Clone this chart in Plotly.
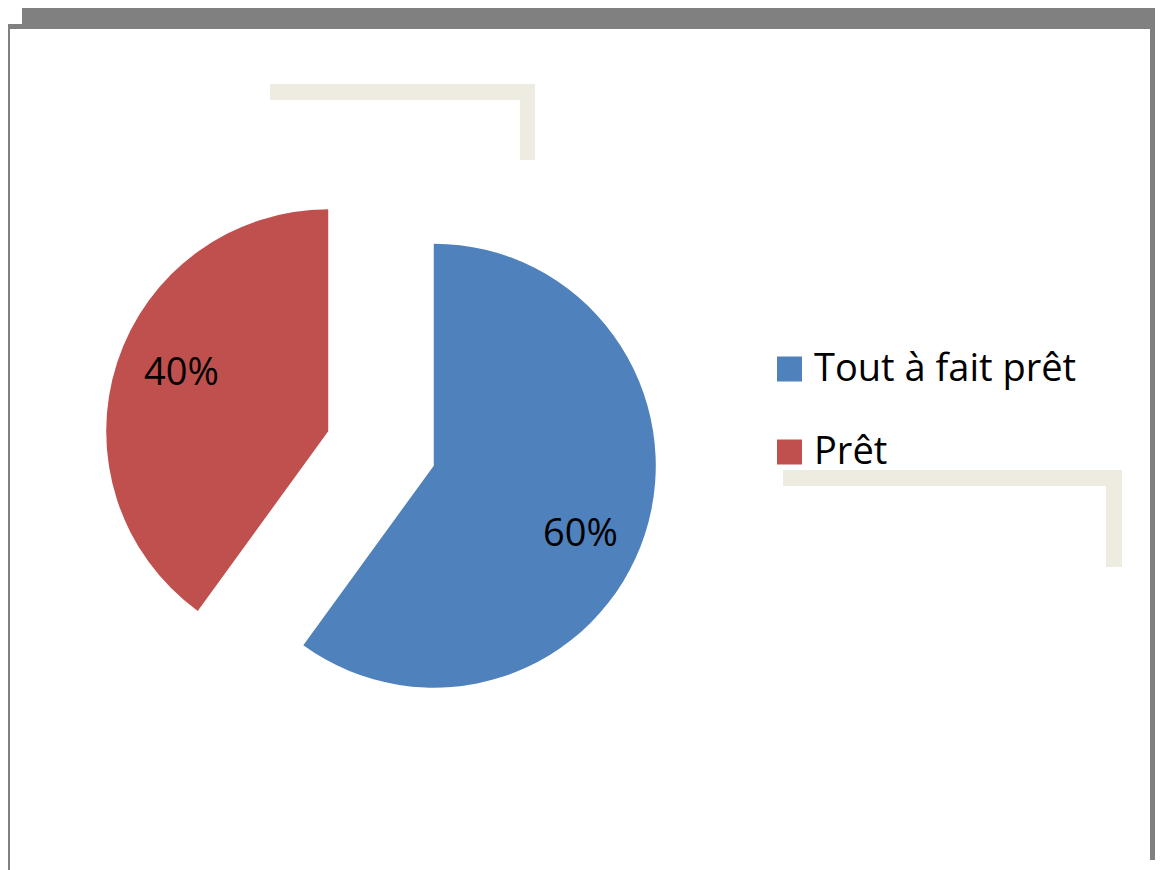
import math
import plotly.graph_objects as go

# données
labels = ["Tout à fait prêt", "Prêt"]
values = [60, 40]
colors = ["#4F81BD", "#C0504D"]

W, H = 1163, 870
OFF = 8  # marge du body html


def px(x):
    return (x - OFF) / W


def py(y):
    return 1 - (y - OFF) / H


# géométrie du camembert (pixels de la page)
CX, CY = 381, 448.5
R = 222
PULL = 0.25

fig = go.Figure()

fig.add_trace(go.Pie(
    labels=labels,
    values=values,
    sort=False,
    direction="clockwise",
    rotation=0,
    pull=[PULL] * len(values),
    marker=dict(colors=colors, line=dict(width=0)),
    textinfo="none",
    domain=dict(x=[px(CX - R * (1 + PULL)), px(CX + R * (1 + PULL))],
                y=[py(CY + R * (1 + PULL)), py(CY - R * (1 + PULL))]),
    showlegend=False,
    hoverinfo="label+percent",
))

shapes = []
annotations = []

# étiquettes de pourcentage, placées sur l'angle médian de chaque part
total = sum(values)
cum = 0
for v in values:
    mid = (cum + v / 2) / total * 2 * math.pi + math.radians(4)
    cum += v
    dx, dy = math.sin(mid), -math.cos(mid)
    sx, sy = CX + PULL * R * dx, CY + PULL * R * dy
    lx, ly = sx + 0.72 * R * dx, sy + 0.72 * R * dy
    annotations.append(dict(text=f"{round(v / total * 100)}%", xref="paper", yref="paper",
                            x=px(lx), y=py(ly + 2), xanchor="center", yanchor="middle",
                            showarrow=False, font=dict(family="Open Sans", size=38, color="black")))

# cadre gris
gris = "#808080"
for x0, y0, x1, y1 in [(22, 8, 1163, 24), (6, 24, 1163, 29), (6, 24, 10, 870), (1150, 8, 1163, 860)]:
    shapes.append(dict(type="rect", xref="paper", yref="paper", x0=px(x0), x1=px(x1), y0=py(y0), y1=py(y1),
                       fillcolor=gris, line=dict(width=0)))
# traits beiges
beige = "#EEEBE0"
for x0, y0, x1, y1 in [(270, 84, 535, 100), (520, 84, 535, 160), (783, 470, 1122, 486), (1106, 470, 1122, 567)]:
    shapes.append(dict(type="rect", xref="paper", yref="paper", x0=px(x0), x1=px(x1), y0=py(y0), y1=py(y1),
                       fillcolor=beige, line=dict(width=0)))

# légende
for i, (lab, col) in enumerate(zip(labels, colors)):
    yc = 369 + i * 83
    shapes.append(dict(type="rect", xref="paper", yref="paper", x0=px(777), x1=px(802),
                       y0=py(yc + 12.5), y1=py(yc - 12.5), fillcolor=col, line=dict(width=0)))
    annotations.append(dict(text=lab, xref="paper", yref="paper", x=px(812), y=py(yc - 3),
                            xanchor="left", yanchor="middle", showarrow=False,
                            font=dict(family="Open Sans", size=38, color="black")))

fig.update_layout(
    width=W, height=H,
    margin=dict(l=0, r=0, t=0, b=0),
    paper_bgcolor="white",
    plot_bgcolor="white",
    shapes=shapes,
    annotations=annotations,
)

fig.write_html("out.html")
